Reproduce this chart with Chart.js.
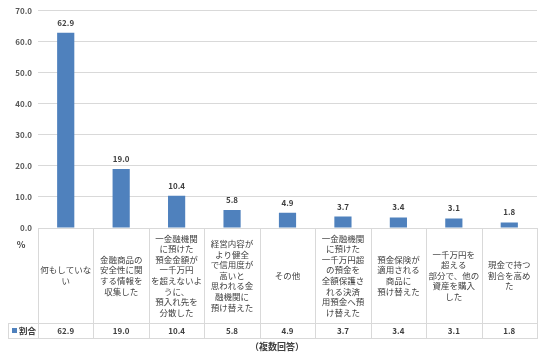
<!DOCTYPE html>
<html><head><meta charset="utf-8">
<script src="https://cdn.jsdelivr.net/npm/chart.js@4"></script>
<style>html,body{margin:0;padding:0;background:#fff;}#wrap{width:544px;height:355px;}</style>
</head><body><div id="wrap"><canvas id="c" width="544" height="355"></canvas></div>
<script>
const categories = [
  ["何もしていな","い"],
  ["金融商品の","安全性に関","する情報を","収集した"],
  ["一金融機関","に預けた","預金金額が","一千万円","を超えないよ","うに、","預入れ先を","分散した"],
  ["経営内容が","より健全","で信用度が","高いと","思われる金","融機関に","預け替えた"],
  ["その他"],
  ["一金融機関","に預けた","一千万円超","の預金を","全額保護さ","れる決済","用預金へ預","け替えた"],
  ["預金保険が","適用される","商品に","預け替えた"],
  ["一千万円を","超える","部分で、他の","資産を購入","した"],
  ["現金で持つ","割合を高め","た"]
];
const seriesName = "割合";
const values = [62.9, 19.0, 10.4, 5.8, 4.9, 3.7, 3.4, 3.1, 1.8];
const yTicks = [0, 10, 20, 30, 40, 50, 60, 70];
const unitLabel = "%";
const noteLabel = "（複数回答）";

const FONT = '"Noto Sans CJK JP", "Noto Sans", sans-serif';
const BAR = '#4F81BD';
const GRID = '#d9d9d9';
const TXT = '#404040';

const tablePlugin = {
  id: 'tablePlugin',
  afterDraw(chart) {
    const ctx = chart.ctx;
    const x = chart.scales.x, y = chart.scales.y;
    const area = chart.chartArea;
    const n = categories.length;
    const step = (area.right - area.left) / n;
    const top = area.bottom;
    const rowTop = top + 95;
    const rowBot = rowTop + 15;
    ctx.save();
    // data labels
    ctx.fillStyle = TXT;
    ctx.font = 'bold 8px ' + FONT;
    ctx.textAlign = 'center';
    ctx.textBaseline = 'middle';
    const meta = chart.getDatasetMeta(0);
    meta.data.forEach((bar, i) => {
      ctx.fillText(values[i].toFixed(1), bar.x, bar.y - 10);
    });
    // table lines
    ctx.strokeStyle = GRID;
    ctx.lineWidth = 1;
    ctx.beginPath();
    for (let i = 0; i <= n; i++) {
      const xx = Math.round(area.left + i * step) + 0.5;
      ctx.moveTo(xx, top); ctx.lineTo(xx, rowBot);
    }
    ctx.moveTo(8.5, rowTop); ctx.lineTo(8.5, rowBot);
    ctx.moveTo(8, rowTop + 0.5); ctx.lineTo(area.right + 1, rowTop + 0.5);
    ctx.moveTo(8, rowBot + 0.5); ctx.lineTo(area.right + 1, rowBot + 0.5);
    ctx.stroke();
    // category labels
    ctx.font = '8.5px ' + FONT;
    ctx.fillStyle = TXT;
    const lh = 10.6;
    const cy = (top + rowTop) / 2;
    categories.forEach((lines, i) => {
      const cx = x.getPixelForValue(i);
      const h = lines.length * lh;
      lines.forEach((ln, j) => {
        ctx.fillText(ln, cx, cy - h / 2 + lh * (j + 0.5));
      });
    });
    // values row
    ctx.font = 'bold 8px ' + FONT;
    const vy = (rowTop + rowBot) / 2 + 0.5;
    values.forEach((v, i) => {
      ctx.fillText(v.toFixed(1), x.getPixelForValue(i), vy);
    });
    // legend key
    ctx.fillStyle = BAR;
    ctx.fillRect(12, vy - 3, 5, 5);
    ctx.fillStyle = TXT;
    ctx.textAlign = 'left';
    ctx.font = 'bold 8.5px ' + FONT;
    ctx.fillText(seriesName, 19, vy);
    // unit
    ctx.textAlign = 'center';
    ctx.font = 'bold 9px ' + FONT;
    ctx.fillText(unitLabel, 21, top + 17);
    // note
    ctx.font = 'bold 9px ' + FONT;
    ctx.fillText(noteLabel, 277, 347);
    ctx.restore();
  }
};

new Chart(document.getElementById('c'), {
  type: 'bar',
  data: {
    labels: categories.map(c => c.join('')),
    datasets: [{ label: seriesName, data: values, backgroundColor: BAR,
      categoryPercentage: 1, barPercentage: 0.31 }]
  },
  options: {
    responsive: false,
    animation: false,
    devicePixelRatio: 1,
    layout: { padding: { top: 7, right: 7, bottom: 127, left: 0 } },
    plugins: { legend: { display: false }, tooltip: { enabled: false } },
    scales: {
      x: { display: false },
      y: {
        min: 0, max: 70,
        afterFit(s) { s.width = 38; },
        afterBuildTicks(s) { s.ticks = yTicks.map(v => ({ value: v })); },
        border: { display: false },
        grid: { color: GRID, drawTicks: false },
        ticks: { padding: 6, color: '#595959', font: { family: FONT, size: 8, weight: 'bold' },
          callback: v => Number(v).toFixed(1) }
      }
    }
  },
  plugins: [tablePlugin]
});
</script></body></html>
